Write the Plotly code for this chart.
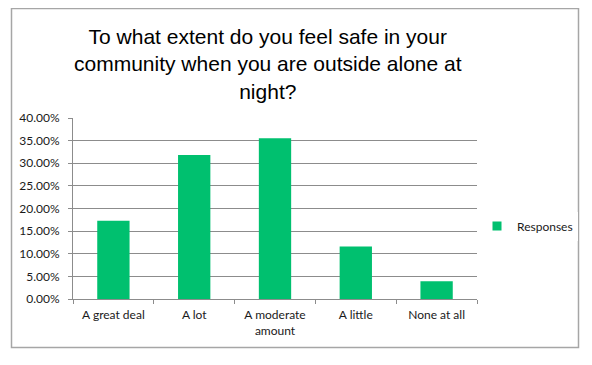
import plotly.graph_objects as go

categories = ["A great deal", "A lot", "A moderate<br>amount", "A little", "None at all"]
responses = [0.173, 0.318, 0.355, 0.116, 0.039]
series_name = "Responses"
title_text = "To what extent do you feel safe in your<br>community when you are outside alone at<br>night?"

# page body has an 8px margin, so the figure is drawn 8px smaller and
# all target positions below are given in screen pixels, then shifted.
OFF = 8
W, H = 592 - OFF, 365 - OFF
# target plot area in screen pixels
SX0, SX1, SY0, SY1 = 73, 477, 118, 299
L = SX0 - OFF
R = W - (SX1 - OFF)
T = SY0 - OFF
B = H - (SY1 - OFF)
pw = W - L - R
ph = H - T - B

def px_x(p):
    return (p - OFF - L) / pw

def px_y(p):
    return (H - B - (p - OFF)) / ph

green = "#00C06F"
axis_gray = "#8c8c8c"
fig = go.Figure()
fig.add_trace(go.Bar(x=categories, y=responses, marker_color=green, showlegend=False,
                     marker_line_width=0))
fig.add_trace(go.Scatter(x=[None], y=[None], mode="markers", name=series_name,
                         marker=dict(symbol="square", size=9, color=green)))

fig.update_layout(
    width=W, height=H,
    margin=dict(l=L, r=R, t=T, b=B),
    paper_bgcolor="white", plot_bgcolor="white",
    bargap=0.6,
    font=dict(family="Lato, Open Sans, sans-serif", size=12, color="#1a1a1a"),
    showlegend=True,
    legend=dict(x=px_x(477), y=px_y(226), xanchor="left", yanchor="middle",
                font=dict(size=12), itemwidth=30, tracegroupgap=0),
    annotations=[dict(text=title_text, xref="paper", yref="paper",
                      x=px_x(268), y=px_y(23), xanchor="center", yanchor="top",
                      showarrow=False,
                      font=dict(family="Liberation Sans, Arial, sans-serif", size=21, color="black"))],
    shapes=[dict(type="rect", xref="paper", yref="paper",
                 x0=px_x(11.5), x1=px_x(578.5), y0=px_y(347.5), y1=px_y(8.5),
                 line=dict(color="#a6a6a6", width=1.5), layer="below")],
)
fig.update_yaxes(range=[0, 0.4], dtick=0.05, tickformat=".2%", showgrid=True,
                 gridcolor=axis_gray, gridwidth=1, showline=True, linecolor=axis_gray,
                 ticks="outside", ticklen=4, tickcolor=axis_gray, zeroline=False,
                 ticklabelstandoff=6, fixedrange=True)
fig.update_xaxes(showline=True, linecolor=axis_gray, ticks="outside", ticklen=4,
                 tickcolor=axis_gray, tickson="boundaries", showgrid=False,
                 ticklabelstandoff=5)

fig.write_html("out.html")
